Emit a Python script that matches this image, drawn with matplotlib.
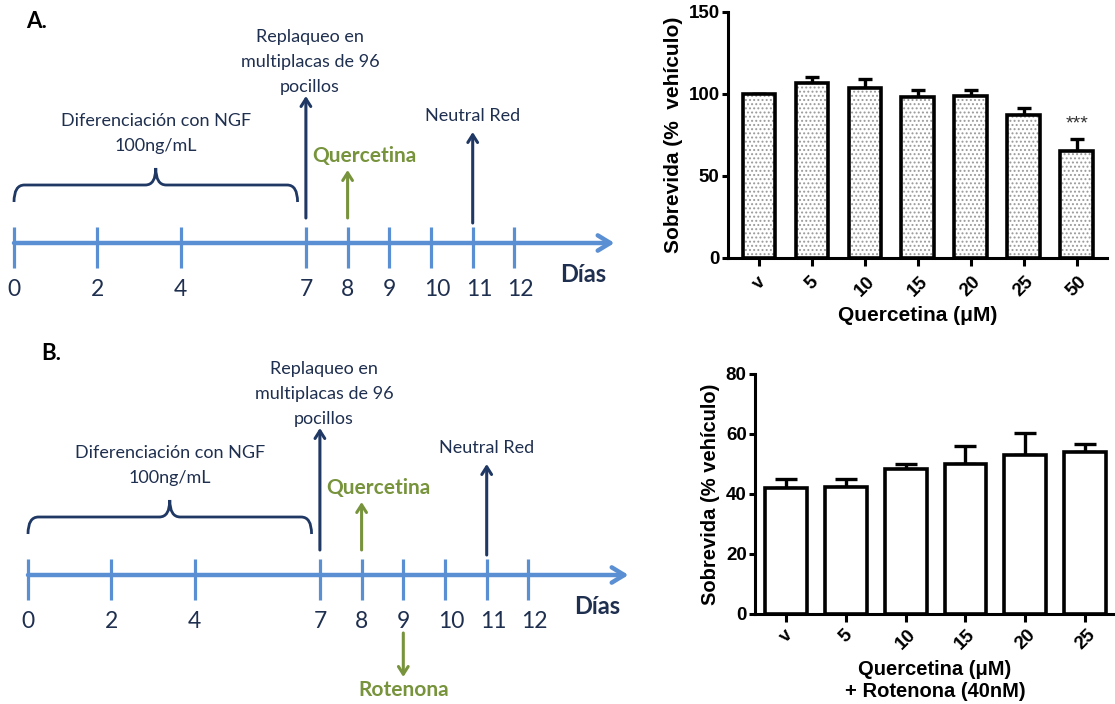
import matplotlib
matplotlib.use('Agg')
import matplotlib.pyplot as plt
from matplotlib.path import Path
from matplotlib.patches import PathPatch

# ---------------- data ----------------
days = [0, 2, 4, 7, 8, 9, 10, 11, 12]
day_labels = ['0', '2', '4', '7', '8', '9', '10', '11', '12']
diff_span = (0, 6.8)          # differentiation with NGF (days)
replating_day = 7
quercetin_day = 8
neutral_red_day = 11
rotenone_day = 9

conc_A = ['v', '5', '10', '15', '20', '25', '50']
surv_A = [100, 107, 103.4, 97.9, 98.7, 87.4, 65.0]
sem_A = [0, 3.3, 5.8, 4.3, 4.0, 4.0, 7.5]
signif_A = ['', '', '', '', '', '', '***']

conc_B = ['v', '5', '10', '15', '20', '25']
surv_B = [42.1, 42.3, 48.2, 50.1, 53.0, 53.9]
sem_B = [2.8, 2.8, 1.9, 5.8, 7.2, 2.9]

# ---------------- styling ----------------
W, H = 1115, 704
BLUE = '#5B8FD3'
NAVY = '#1F3864'
TXT = '#1F2F4F'
GREEN = '#77933C'
TL_FONT = ['Lato', 'DejaVu Sans']
BAR_FONT = ['Liberation Sans', 'DejaVu Sans']
PX_PER_DAY = 41.7

fig = plt.figure(figsize=(W / 100, H / 100), dpi=100)


def brace(ax, x0, x1, y_line, y_end, y_peak, r=0.25, color=NAVY):
    xm = (x0 + x1) / 2
    verts = [(x0, y_end), (x0, y_line), (x0 + r, y_line),
             (xm - r, y_line),
             (xm, y_line), (xm, y_peak),
             (xm, y_line), (xm + r, y_line),
             (x1 - r, y_line),
             (x1, y_line), (x1, y_end)]
    codes = [Path.MOVETO, Path.CURVE3, Path.CURVE3, Path.LINETO,
             Path.CURVE3, Path.CURVE3, Path.CURVE3, Path.CURVE3,
             Path.LINETO, Path.CURVE3, Path.CURVE3]
    ax.add_patch(PathPatch(Path(verts, codes), fill=False, edgecolor=color,
                           lw=2.0, capstyle='butt'))


def arrow(ax, x, y_from, y_to, color, lw=2.2):
    ax.annotate('', xy=(x, y_to), xytext=(x, y_from),
                arrowprops=dict(arrowstyle='->,head_length=0.55,head_width=0.35',
                                color=color, lw=lw, shrinkA=0, shrinkB=0))


def timeline(x0px, dy, panel, rotenone=False):
    ax = fig.add_axes([0, 0, 640 / W, 1])
    ax.set_xlim((0 - x0px) / PX_PER_DAY, (640 - x0px) / PX_PER_DAY)
    ax.set_ylim(H, 0)
    ax.axis('off')
    ya = 243 + dy
    end_day = 14.4
    ax.annotate('', xy=(end_day, ya), xytext=(days[0], ya),
                arrowprops=dict(arrowstyle='->,head_length=0.9,head_width=0.55',
                                color=BLUE, lw=3.2, shrinkA=0, shrinkB=0))
    ax.vlines(days, ya - 16, ya + 25, color=BLUE, lw=2.3)
    for d, lab in zip(days, day_labels):
        ax.text(d + (0.15 if len(lab) > 1 else 0.0), 290 + dy, lab,
                ha='center', va='center', fontsize=16.5, color=TXT, family=TL_FONT)
    ax.text(end_day - 0.75, 275 + dy, 'Días', ha='center', va='center',
            fontsize=17, fontweight='bold', color=TXT, family=TL_FONT)
    ax.text(-0.34 + 37 / PX_PER_DAY, 21 + dy, panel,
            ha='center', va='center', fontsize=16, fontweight='bold',
            color='black', family=TL_FONT)
    # differentiation
    brace(ax, diff_span[0], diff_span[1], 185 + dy, 202 + dy, 168 + dy)
    mid = (diff_span[0] + diff_span[1]) / 2
    ax.text(mid, 121 + dy, 'Diferenciación con NGF', ha='center', va='center',
            fontsize=13, color=TXT, family=TL_FONT)
    ax.text(mid, 146 + dy, '100ng/mL', ha='center', va='center',
            fontsize=13, color=TXT, family=TL_FONT)
    # replating
    arrow(ax, replating_day, 218 + dy, 96 + dy, NAVY)
    for i, line in enumerate(['Replaqueo en', 'multiplacas de 96', 'pocillos']):
        ax.text(replating_day + 0.1, 37 + dy + 25 * i, line, ha='center', va='center',
                fontsize=13, color=TXT, family=TL_FONT)
    # quercetin
    arrow(ax, quercetin_day, 218 + dy, 170 + dy, GREEN)
    ax.text(quercetin_day + 0.4, 156 + dy, 'Quercetina', ha='center', va='center',
            fontsize=15, fontweight='bold', color=GREEN, family=TL_FONT)
    # neutral red
    arrow(ax, neutral_red_day, 223 + dy, 132 + dy, NAVY)
    ax.text(neutral_red_day, 116 + dy, 'Neutral Red', ha='center', va='center',
            fontsize=13, color=TXT, family=TL_FONT)
    if rotenone:
        arrow(ax, rotenone_day, 633, 677, GREEN)
        ax.text(rotenone_day, 690, 'Rotenona', ha='center', va='center',
                fontsize=15, fontweight='bold', color=GREEN, family=TL_FONT)
    return ax


timeline(14, 0, 'A.')
timeline(28, 332, 'B.', rotenone=True)


def bar_axes(left, right, top, bottom):
    return fig.add_axes([left / W, 1 - bottom / H, (right - left) / W, (bottom - top) / H])


def style_bar_axes(ax, labels, yticks, ylabel, xlabel, ysize, xsize, xpad, tpad):
    for s in ['top', 'right']:
        ax.spines[s].set_visible(False)
    for s in ['left', 'bottom']:
        ax.spines[s].set_linewidth(2.2)
    ax.set_xticks(range(len(labels)))
    ax.set_xticklabels(labels, rotation=45, ha='center', va='top',
                       fontsize=13.5, fontweight='bold', family=BAR_FONT)
    ax.set_yticks(yticks)
    ax.set_yticklabels([str(t) for t in yticks], fontsize=13.5,
                       fontweight='bold', family=BAR_FONT)
    ax.tick_params(axis='both', width=2.2, length=4, pad=2)
    ax.tick_params(axis='x', length=6, pad=tpad)
    ax.set_ylabel(ylabel, fontsize=ysize, fontweight='bold', family=BAR_FONT, labelpad=4)
    ax.set_xlabel(xlabel, fontsize=xsize, fontweight='bold', family=BAR_FONT,
                  labelpad=xpad, linespacing=1.2)
    ax.patch.set_alpha(0)


# ---------- panel A bar chart ----------
axA = bar_axes(728, 1107, 12, 258)
xA = list(range(len(conc_A)))
plt.rcParams['hatch.linewidth'] = 0.9
axA.bar(xA, surv_A, width=0.62, color='white', edgecolor='#9a9a9a',
        hatch='....', linewidth=0, zorder=2)
axA.bar(xA, surv_A, width=0.62, fill=False, edgecolor='black', linewidth=2.6, zorder=3)
axA.errorbar(xA, surv_A, yerr=[[0] * len(sem_A), sem_A], fmt='none', ecolor='black',
             elinewidth=2.4, capsize=5, capthick=2.4, zorder=1)
for x, y, e, s in zip(xA, surv_A, sem_A, signif_A):
    if s:
        axA.text(x, y + e + 4, s, ha='center', va='bottom', fontsize=14,
                 color='#333333', family=BAR_FONT)
axA.set_xlim(-0.585, 6.57)
axA.set_ylim(0, 150)
style_bar_axes(axA, conc_A, [0, 50, 100, 150], 'Sobrevida (%  vehículo)',
               'Quercetina (\u03bcM)', 15, 15, 4, 5)

# ---------- panel B bar chart ----------
axB = bar_axes(755, 1115, 374, 614)
xB = list(range(len(conc_B)))
axB.bar(xB, surv_B, width=0.7, color='white', edgecolor='black', linewidth=2.6, zorder=3)
axB.errorbar(xB, surv_B, yerr=[[0] * len(sem_B), sem_B], fmt='none', ecolor='black',
             elinewidth=2.4, capsize=8, capthick=2.4, zorder=1)
axB.set_xlim(-0.52, 5.5)
axB.set_ylim(0, 80)
style_bar_axes(axB, conc_B, [0, 20, 40, 60, 80], 'Sobrevida (% vehículo)',
               'Quercetina (\u03bcM)\n+ Rotenona (40nM)', 14.5, 14.5, 5, 3)

fig.savefig('out.png', dpi=100, facecolor='white')
